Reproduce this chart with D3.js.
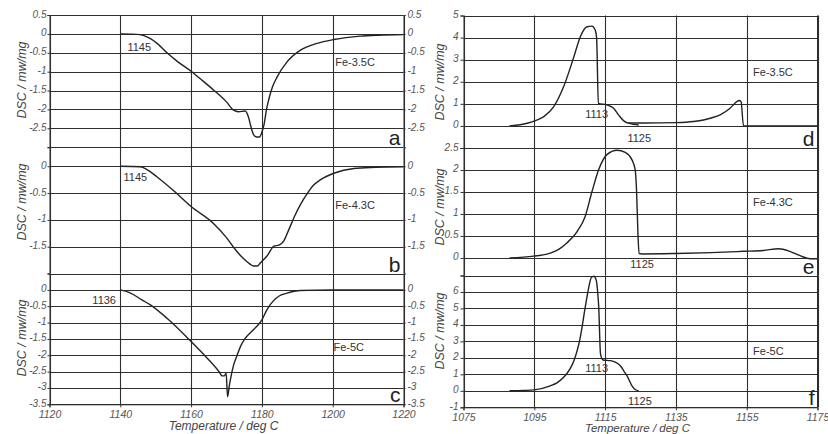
<!DOCTYPE html>
<html>
<head>
<meta charset="utf-8">
<script src="https://cdn.jsdelivr.net/npm/d3@7"></script>
<style>
  body { margin: 0; background: #fff; }
  text { font-family: "Liberation Sans", Arial, sans-serif; }
</style>
</head>
<body>
<svg width="828" height="434"></svg>
<script>
// temperature ticks for the two columns
const tempTicksLeft = [1120, 1140, 1160, 1180, 1200, 1220];
const tempTicksRight = [1075, 1095, 1115, 1135, 1155, 1175];

// dsc tick labels per panel
const ticksA = [0.5, 0, -0.5, -1, -1.5, -2, -2.5];
const ticksB = [0, -0.5, -1, -1.5];
const ticksC = [0, -0.5, -1, -1.5, -2, -2.5, -3, -3.5];
const ticksD = [5, 4, 3, 2, 1, 0];
const ticksE = [2.5, 2, 1.5, 1, 0.5, 0];
const ticksF = [6, 5, 4, 3, 2, 1, 0, -1];

// heating curves [temperature, dsc] (left column)
const heatA = [[1140,0],[1143,-0.005],[1145.6,-0.02],[1148,-0.1],[1150.4,-0.25],[1153.2,-0.5],[1156,-0.72],[1160,-0.99],
  [1163,-1.22],[1166.4,-1.49],[1170,-1.8],[1172,-2.02],[1173.4,-2.06],[1175.3,-2.04],[1176.2,-2.2],[1176.8,-2.42],
  [1177.6,-2.66],[1178.5,-2.73],[1179.3,-2.73],[1180,-2.6],[1180.6,-2.4],[1181.3,-2.0],[1181.9,-1.75],[1183,-1.4],
  [1184.3,-1.14],[1187.1,-0.74],[1190.9,-0.43],[1195.6,-0.25],[1200.3,-0.15],[1207.8,-0.06],[1213,-0.035],[1220,-0.02]];
const heatB = [[1140,0],[1145.6,-0.01],[1148,-0.08],[1150.4,-0.2],[1155,-0.45],[1160,-0.75],[1166.4,-1.07],[1170,-1.33],
  [1172,-1.51],[1174,-1.67],[1175.8,-1.78],[1177.7,-1.86],[1178.7,-1.86],[1179.6,-1.8],[1181.5,-1.67],[1183.4,-1.49],
  [1184.8,-1.47],[1186.2,-1.39],[1187.5,-1.2],[1189.1,-0.95],[1191,-0.7],[1192.8,-0.51],[1194.5,-0.36],[1196.6,-0.25],
  [1200.3,-0.13],[1206,-0.04],[1212,-0.02],[1220,-0.01]];
const heatC = [[1140,0],[1141.5,-0.04],[1143.8,-0.15],[1146,-0.3],[1148.5,-0.46],[1153.2,-0.87],[1160,-1.58],[1164.3,-2.06],
  [1168.2,-2.55],[1168.7,-2.63],[1169.4,-2.63],[1169.9,-2.55],[1170.3,-3.27],[1170.8,-2.93],[1172,-2.3],[1173,-2.0],
  [1174,-1.72],[1175.3,-1.48],[1177.6,-1.22],[1180,-0.92],[1181.4,-0.61],[1183.3,-0.33],[1185,-0.18],[1187.1,-0.1],
  [1190.9,-0.02],[1200,0],[1220,0]];

// cooling curves [temperature, dsc] (right column)
const coolD = [[1088,0],[1091,0.05],[1093,0.12],[1095.5,0.25],[1097.7,0.42],[1100.5,0.87],[1103.3,1.78],[1106.2,3.14],
  [1108,4.04],[1109.9,4.49],[1111.3,4.52],[1112.2,4.34],[1112.6,4.0],[1113.1,1.02],[1115.5,0.95],[1117.4,0.8],
  [1118.8,0.5],[1120.2,0.24],[1121.6,0.13],[1126,0.13],[1135,0.15],[1140,0.2],[1142.8,0.27],[1145,0.36],[1147.5,0.5],
  [1150.3,0.8],[1152.2,1.1],[1152.9,1.15],[1153.4,1.1],[1154.1,0],[1175,0]];
const coolDTail = [[1121.6,0.13],[1123,0.07],[1124.5,0.04]];
const coolE = [[1088,0],[1094.8,0.04],[1099.5,0.11],[1102,0.2],[1104.2,0.34],[1107.1,0.6],[1109.4,0.95],[1111.3,1.51],
  [1113.2,2.01],[1115.5,2.35],[1118.4,2.45],[1120.7,2.4],[1122.6,2.23],[1123.5,2.0],[1123.9,1.5],[1124.3,0.5],
  [1124.6,0.1],[1125.5,0.09],[1135,0.1],[1145,0.12],[1154.1,0.15],[1159.7,0.17],[1164,0.21],[1167.2,0.15],
  [1170.1,0.05],[1172.9,-0.02],[1175,-0.02]];
const coolF = [[1088,0],[1092,0.02],[1095,0.06],[1099.5,0.3],[1101.5,0.5],[1103.3,0.82],[1105,1.3],[1106.2,1.83],
  [1108,3.26],[1109.4,5.09],[1110.4,6.3],[1111.1,6.87],[1111.8,6.95],[1112.5,6.71],[1112.9,6.0],[1113.2,5.09],
  [1113.7,2.24],[1114.4,1.87],[1116.5,1.83],[1118,1.73],[1119.3,1.52],[1120.3,1.2],[1121.2,0.91],[1122.6,0.3],
  [1123.5,0.08],[1124.5,0]];

// annotations: text, temperature, dsc
const notesA = [["1145",1142,-0.46],["Fe-3.5C",1200.7,-0.85]];
const notesB = [["1145",1140.9,-0.28],["Fe-4.3C",1200.7,-0.79]];
const notesC = [["1136",1132.1,-0.43],["Fe-5C",1200.2,-1.86]];
const notesD = [["1113",1109.4,0.36],["1125",1121.3,-0.72],["Fe-3.5C",1156.8,2.26]];
const notesE = [["1125",1122.1,-0.24],["Fe-4.3C",1156.8,1.17]];
const notesF = [["1113",1109.4,1.14],["1125",1121.5,-0.85],["Fe-5C",1156.8,2.2]];

const svg = d3.select('svg');
svg.append('rect').attr('width', 828).attr('height', 434).attr('fill', '#fff');

const left = { xr: [49.5, 403.5], dom: [1120, 1220], ticks: tempTicksLeft, yLabelX: 26, titleY: 430, titleSize: 12, rightAxis: true };
const right = { xr: [463.5, 817.5], dom: [1075, 1175], ticks: tempTicksRight, yLabelX: 444, titleY: 432, titleSize: 11.5, rightAxis: false };

const panels = [
  { col: left, letter: 'a', dom: [-3, 0.5], yr: [15, 147.2], ticks: ticksA, grid: 0.5, curves: [heatA], notes: notesA, labelY: 80 },
  { col: left, letter: 'b', dom: [-2, 0.356], yr: [147.2, 273.5], ticks: ticksB, grid: 0.5, curves: [heatB], notes: notesB, labelY: 202 },
  { col: left, letter: 'c', dom: [-3.5, 0.5], yr: [273.5, 404.3], ticks: ticksC, grid: 0.5, curves: [heatC], notes: notesC, labelY: 338, xaxis: true },
  { col: right, letter: 'd', dom: [-1, 5], yr: [15.5, 148], ticks: ticksD, grid: 1, curves: [coolD, coolDTail], notes: notesD, labelY: 82 },
  { col: right, letter: 'e', dom: [-0.4, 2.5], yr: [148, 275.5], ticks: ticksE, grid: 0.5, curves: [coolE], notes: notesE, labelY: 207 },
  { col: right, letter: 'f', dom: [-1, 7], yr: [275.5, 407.3], ticks: ticksF, grid: 1, curves: [coolF], notes: notesF, labelY: 331, xaxis: true }
];

const gridColor = '#2e2e2e';
const labelColor = '#555';

panels.forEach(p => {
  const c = p.col;
  const x = d3.scaleLinear().domain(c.dom).range(c.xr);
  const y = d3.scaleLinear().domain(p.dom).range([p.yr[1], p.yr[0]]);
  const g = svg.append('g');
  const snap = v => Math.round(v) + 0.5;

  // horizontal grid at every tick step inside the panel
  const gridVals = d3.range(Math.ceil(p.dom[0] / p.grid) * p.grid, p.dom[1] + 1e-9, p.grid);
  g.selectAll('line.h').data(gridVals).join('line')
    .attr('x1', c.xr[0]).attr('x2', c.xr[1])
    .attr('y1', d => snap(y(d))).attr('y2', d => snap(y(d)))
    .attr('stroke', gridColor).attr('stroke-width', 1.1);

  // vertical grid
  g.selectAll('line.v').data(c.ticks).join('line')
    .attr('x1', d => snap(x(d))).attr('x2', d => snap(x(d)))
    .attr('y1', p.yr[0]).attr('y2', p.yr[1])
    .attr('stroke', gridColor).attr('stroke-width', 1.1);

  // left axis
  const ax = g.append('g').attr('transform', `translate(${c.xr[0]},0)`)
    .call(d3.axisLeft(y).tickValues(p.ticks).tickSize(c.rightAxis ? 2 : 3).tickPadding(c.rightAxis ? 1 : 2)
      .tickFormat(d => String(d)));
  ax.select('.domain').attr('stroke', gridColor);
  // labels sit a touch above their gridline, as in the scan
  ax.selectAll('text').attr('dy', '0.2em');

  // right axis labels for the left column
  if (c.rightAxis) {
    const ar = g.append('g').attr('transform', `translate(${c.xr[1]},0)`)
      .call(d3.axisRight(y).tickValues(p.ticks).tickSize(2).tickPadding(2).tickFormat(d => String(d)));
    ar.select('.domain').attr('stroke', gridColor);
    ar.selectAll('text').attr('dy', '0.2em');
  }

  if (p.xaxis) {
    const axb = g.append('g').attr('transform', `translate(0,${p.yr[1]})`)
      .call(d3.axisBottom(x).tickValues(c.ticks).tickSize(3).tickPadding(3).tickFormat(d => String(d)));
    axb.select('.domain').attr('stroke', gridColor);
    axb.selectAll('text').attr('font-size', 10.5);
    g.append('text')
      .attr('x', (c.xr[0] + c.xr[1]) / 2 - 3).attr('y', c.titleY)
      .attr('text-anchor', 'middle').attr('font-size', c.titleSize).attr('font-style', 'italic')
      .attr('fill', '#444').text('Temperature / deg C');
  }

  g.selectAll('.tick line').attr('stroke', gridColor);
  g.selectAll('.tick text').attr('font-style', 'italic').attr('fill', labelColor)
    .attr('font-family', '"Liberation Sans", Arial, sans-serif');
  g.selectAll('.tick text').filter(function () { return !this.getAttribute('font-size'); }).attr('font-size', 10);

  // y label
  g.append('text')
    .attr('transform', `translate(${c.yLabelX},${p.labelY}) rotate(-90)`)
    .attr('text-anchor', 'middle').attr('font-size', 12.5).attr('font-style', 'italic')
    .attr('fill', '#444').text('DSC / mw/mg');

  // curves
  const line = d3.line().x(d => x(d[0])).y(d => y(d[1])).curve(d3.curveMonotoneX);
  g.selectAll('path.curve').data(p.curves).join('path')
    .attr('class', 'curve')
    .attr('d', line)
    .attr('fill', 'none').attr('stroke', '#222').attr('stroke-width', 1.4);

  // annotations
  g.selectAll('text.note').data(p.notes).join('text')
    .attr('class', 'note')
    .attr('x', d => x(d[1])).attr('y', d => y(d[2]))
    .attr('font-size', 11).attr('fill', '#333')
    .text(d => d[0]);

  // panel letter
  g.append('text')
    .attr('x', c.xr[1] - 3).attr('y', p.yr[1] - 2)
    .attr('text-anchor', 'end').attr('font-size', 21).attr('fill', '#222')
    .text(p.letter);
});

// right frame of the right column
svg.append('line')
  .attr('x1', right.xr[1]).attr('x2', right.xr[1]).attr('y1', 15.5).attr('y2', 407.3)
  .attr('stroke', gridColor);
</script>
</body>
</html>
